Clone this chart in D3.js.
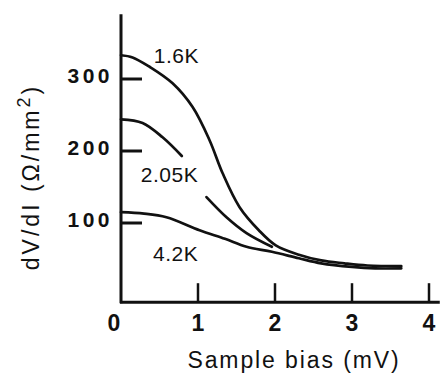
<!DOCTYPE html>
<html>
<head>
<meta charset="utf-8">
<script src="https://cdn.jsdelivr.net/npm/d3@7"></script>
<style>
  html, body { margin: 0; padding: 0; background: #fff; }
  svg { display: block; }
  text { font-family: "Liberation Sans", Arial, Helvetica, sans-serif; fill: #111; }
</style>
</head>
<body>
<svg id="chart" width="441" height="378"></svg>
<script>
// Sample bias (mV) and differential resistance dV/dI (Ω/mm²) for each temperature
const bias16 = [0, 0.15, 0.37, 0.67, 0.93, 1.15, 1.32, 1.54, 1.79, 2.01, 2.31, 2.6, 2.9, 3.2, 3.64];
const res16  = [333, 330, 317, 294, 261, 215, 169, 122, 90, 69, 56, 48, 44, 41, 40];

const bias205a = [0, 0.28, 0.54, 0.79];
const res205a  = [244, 239, 219, 193];
const bias205b = [1.11, 1.37, 1.63, 1.96];
const res205b  = [136, 108, 86, 67];

const bias42 = [0, 0.3, 0.59, 1.02, 1.35, 1.63, 1.96, 2.31, 2.6, 3.0, 3.3, 3.64];
const res42  = [115, 113, 108, 90, 78, 67, 60, 51, 44, 39, 37, 37];

const xTicks = [0, 1, 2, 3, 4];
const yTicks = [100, 200, 300];

const svg = d3.select("#chart");

const x = d3.scaleLinear().domain([0, 4]).range([121, 429]);
const y = d3.scaleLinear().domain([0, 300]).range([295, 79]);

const yBase = -10;   // value where the bias axis sits
const yTop = 390;    // top of the resistance axis
const xEnd = 4.14;   // right end of the bias axis

const line = d3.line()
  .x(d => x(d[0]))
  .y(d => y(d[1]))
  .curve(d3.curveCatmullRom.alpha(0.5));

const zip = (a, b) => a.map((v, i) => [v, b[i]]);

// axes
svg.append("line")
  .attr("x1", x(0)).attr("x2", x(0))
  .attr("y1", y(yBase) + 1).attr("y2", y(yTop))
  .attr("stroke", "#111").attr("stroke-width", 3);
svg.append("line")
  .attr("x1", x(0) - 1).attr("x2", x(xEnd))
  .attr("y1", y(yBase)).attr("y2", y(yBase))
  .attr("stroke", "#111").attr("stroke-width", 3);

// inward ticks
svg.selectAll(".ytick").data(yTicks).enter().append("line")
  .attr("x1", x(0)).attr("x2", x(0) + 21)
  .attr("y1", d => y(d)).attr("y2", d => y(d))
  .attr("stroke", "#111").attr("stroke-width", 3);
svg.selectAll(".xtick").data(xTicks.slice(1)).enter().append("line")
  .attr("x1", d => x(d)).attr("x2", d => x(d))
  .attr("y1", y(yBase)).attr("y2", y(yBase) - 19)
  .attr("stroke", "#111").attr("stroke-width", 2.5);

// tick labels
svg.selectAll(".ylab").data(yTicks).enter().append("text")
  .attr("x", x(0) - 8)
  .attr("y", d => y(d) - 4)
  .attr("text-anchor", "end")
  .attr("dominant-baseline", "central")
  .attr("font-size", 21)
  .attr("font-weight", "bold")
  .attr("letter-spacing", 3.5)
  .text(d => d);
svg.selectAll(".xlab").data(xTicks).enter().append("text")
  .attr("x", d => x(d) - (d === 0 ? 7 : 0))
  .attr("y", y(yBase) + 21)
  .attr("text-anchor", "middle")
  .attr("dominant-baseline", "central")
  .attr("font-size", 23)
  .attr("font-weight", "bold")
  .text(d => d);

// axis titles
svg.append("text")
  .attr("x", 294).attr("y", 368)
  .attr("text-anchor", "middle")
  .attr("font-size", 23)
  .attr("letter-spacing", 1.9)
  .text("Sample bias (mV)");

const yTitle = svg.append("text")
  .attr("transform", "translate(39,177) rotate(-90)")
  .attr("text-anchor", "middle")
  .attr("font-size", 23)
  .attr("letter-spacing", 3);
yTitle.append("tspan").text("dV/dI  (Ω/mm");
yTitle.append("tspan").attr("font-size", 18).attr("dy", -9).text("2");
yTitle.append("tspan").attr("dy", 9).text(")");

// curves
const curves = [
  zip(bias16, res16),
  zip(bias205a, res205a),
  zip(bias205b, res205b),
  zip(bias42, res42)
];
svg.selectAll(".curve").data(curves).enter().append("path")
  .attr("d", line)
  .attr("fill", "none")
  .attr("stroke", "#111")
  .attr("stroke-width", 2.7)
  .attr("stroke-linecap", "round");

// temperature labels
const tempLabels = [
  { text: "1.6K",  b: 0.72, r: 333 },
  { text: "2.05K", b: 0.63, r: 168 },
  { text: "4.2K",  b: 0.71, r: 57 }
];
svg.selectAll(".tlab").data(tempLabels).enter().append("text")
  .attr("x", d => x(d.b))
  .attr("y", d => y(d.r))
  .attr("text-anchor", "middle")
  .attr("dominant-baseline", "central")
  .attr("font-size", 21)
  .attr("letter-spacing", 0.5)
  .text(d => d.text);
</script>
</body>
</html>
